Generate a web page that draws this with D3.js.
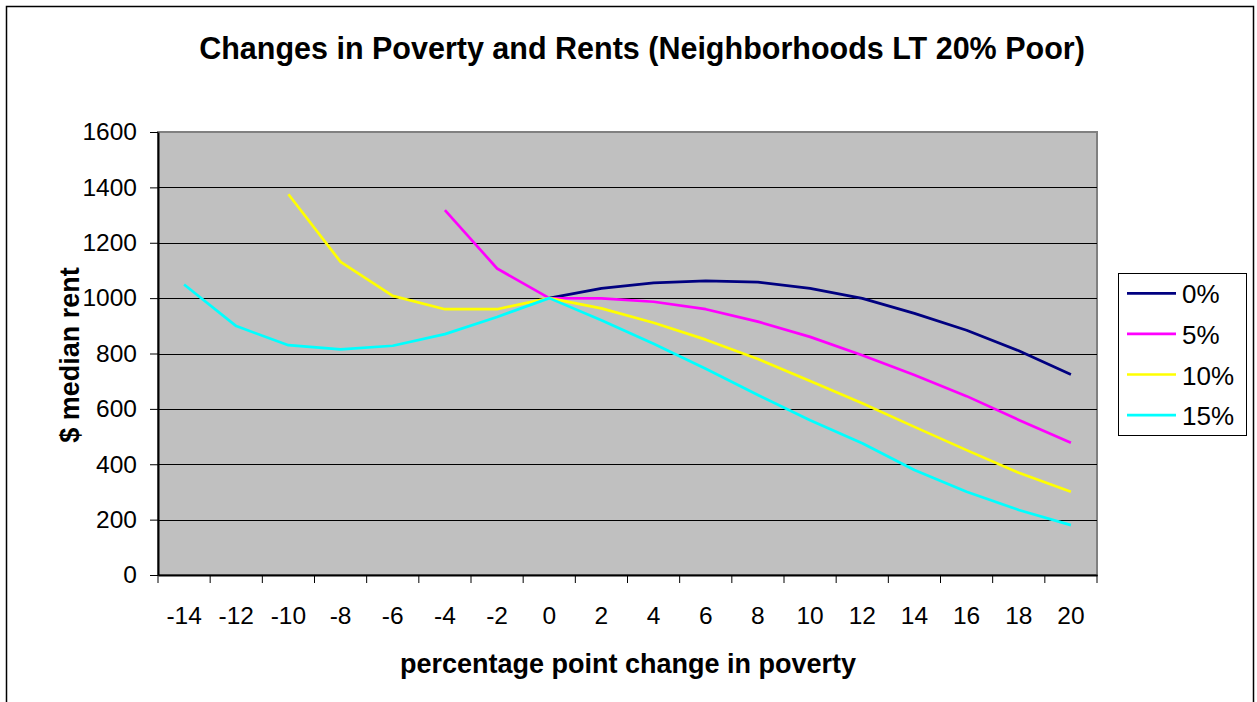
<!DOCTYPE html>
<html>
<head>
<meta charset="utf-8">
<script src="https://cdn.jsdelivr.net/npm/d3@7"></script>
<style>
  html, body { margin: 0; padding: 0; background: #fff; }
  svg { display: block; font-family: "Liberation Sans", Arial, sans-serif; }
</style>
</head>
<body>
<svg id="chart" width="1257" height="702"></svg>
<script>
const categories = [-14, -12, -10, -8, -6, -4, -2, 0, 2, 4, 6, 8, 10, 12, 14, 16, 18, 20];
const seriesNames = ["0%", "5%", "10%", "15%"];
const s0  = [null, null, null, null, null, null, null, 1000, 1035, 1055, 1062, 1058, 1035, 999, 945, 884, 810, 724];
const s5  = [null, null, null, null, null, 1318, 1107, 1000, 999, 987, 960, 915, 860, 794, 722, 646, 560, 478];
const s10 = [null, null, 1375, 1131, 1008, 960, 960, 1000, 963, 911, 850, 780, 701, 620, 535, 451, 369, 301];
const s15 = [1049, 899, 830, 815, 828, 870, 932, 1000, 920, 835, 745, 650, 559, 476, 379, 301, 235, 180];
const yTicks = [0, 200, 400, 600, 800, 1000, 1200, 1400, 1600];
const colors = ["#000080", "#FF00FF", "#FFFF00", "#00FFFF"];

const series = [s0, s5, s10, s15].map((vals, i) => ({ name: seriesNames[i], color: colors[i], values: vals }));

const svg = d3.select("#chart");
const L = 158, R = 1097, T = 132, B = 575;
const FONT = "Liberation Sans, Arial, sans-serif";

// outer frame
svg.append("rect").attr("x", 6.5).attr("y", 6.5).attr("width", 1247).attr("height", 720)
  .attr("fill", "#fff").attr("stroke", "#000").attr("stroke-width", 1.5);

const x = d3.scaleBand().domain(categories).range([L, R]).padding(0);
const y = d3.scaleLinear().domain([0, 1600]).range([B, T]);

// plot area
svg.append("rect").attr("x", L).attr("y", T).attr("width", R - L).attr("height", B - T)
  .attr("fill", "#C0C0C0").attr("stroke", "#808080").attr("stroke-width", 2);

// gridlines
svg.append("g").selectAll("line").data(yTicks.filter(d => d > 0 && d < 1600)).join("line")
  .attr("x1", L).attr("x2", R).attr("y1", d => Math.round(y(d)) + 0.5).attr("y2", d => Math.round(y(d)) + 0.5)
  .attr("stroke", "#000").attr("stroke-width", 1);

// y axis
const yAxis = svg.append("g").attr("transform", `translate(${L},0)`)
  .call(d3.axisLeft(y).tickValues(yTicks).tickFormat(d3.format("d")).tickSize(8).tickPadding(13).tickSizeOuter(0));
yAxis.select(".domain").attr("stroke", "#000").attr("stroke-width", 2);
yAxis.selectAll(".tick line").attr("stroke", "#000");
yAxis.selectAll("text").attr("font-size", 24.5).attr("fill", "#000").attr("font-family", FONT);

// x axis
const xAxis = svg.append("g").attr("transform", `translate(0,${B})`)
  .call(d3.axisBottom(x).tickSize(0).tickPadding(32).tickSizeOuter(0));
xAxis.select(".domain").attr("stroke", "#000").attr("stroke-width", 2);
xAxis.selectAll("text").attr("font-size", 24.5).attr("fill", "#000").attr("font-family", FONT);
// category boundary ticks
const bounds = categories.map(c => x(c)).concat([x(categories[categories.length - 1]) + x.bandwidth()]);
svg.append("g").selectAll("line").data(bounds).join("line")
  .attr("x1", d => d).attr("x2", d => d).attr("y1", B).attr("y2", B + 8)
  .attr("stroke", "#000").attr("stroke-width", 1);

// lines
const line = d3.line()
  .defined(d => d.v !== null)
  .x(d => x(d.c) + x.bandwidth() / 2)
  .y(d => y(d.v));
svg.append("g").selectAll("path").data(series).join("path")
  .attr("d", s => line(categories.map((c, i) => ({ c, v: s.values[i] }))))
  .attr("fill", "none").attr("stroke", s => s.color).attr("stroke-width", 2.7)
  .attr("stroke-linejoin", "round");

// title
svg.append("text").attr("x", 642).attr("y", 59).attr("text-anchor", "middle")
  .attr("font-size", 30.5).attr("font-weight", "bold").text("Changes in Poverty and Rents (Neighborhoods LT 20% Poor)");

// axis titles
svg.append("text").attr("x", 628).attr("y", 673).attr("text-anchor", "middle")
  .attr("font-size", 27).attr("font-weight", "bold").text("percentage point change in poverty");
svg.append("text").attr("transform", "translate(79,355) rotate(-90)").attr("text-anchor", "middle")
  .attr("font-size", 27).attr("font-weight", "bold").text("$ median rent");

// legend
const lg = svg.append("g");
lg.append("rect").attr("x", 1118.5).attr("y", 273.5).attr("width", 128).attr("height", 162)
  .attr("fill", "#fff").attr("stroke", "#000").attr("stroke-width", 1);
const items = lg.selectAll("g").data(series).join("g")
  .attr("transform", (d, i) => `translate(0,${293.3 + i * 40.6})`);
items.append("line").attr("x1", 1127).attr("x2", 1176).attr("y1", 0).attr("y2", 0)
  .attr("stroke", d => d.color).attr("stroke-width", 2.7);
items.append("text").attr("x", 1182).attr("y", 10).attr("font-size", 26).text(d => d.name);
</script>
</body>
</html>
